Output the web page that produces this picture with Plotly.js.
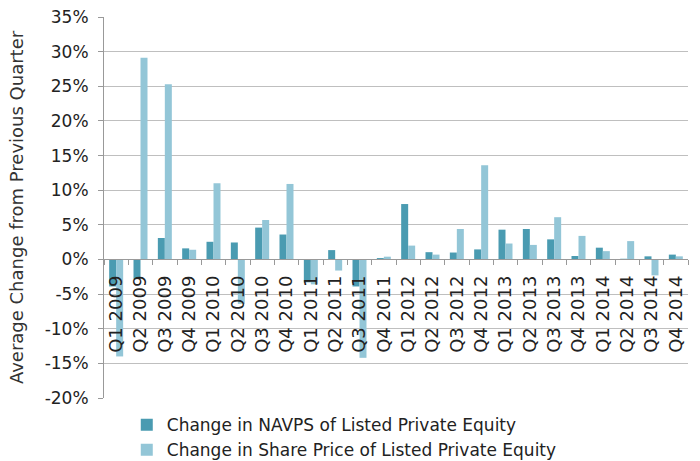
<!DOCTYPE html>
<html>
<head>
<meta charset="utf-8">
<script src="https://cdn.plot.ly/plotly-3.0.1.min.js"></script>
<style>html,body{margin:0;padding:0;background:#fff;}#chart{width:700px;height:461px;}</style>
</head>
<body>
<div id="chart"></div>
<script>
const quarters = ["Q1 2009","Q2 2009","Q3 2009","Q4 2009","Q1 2010","Q2 2010","Q3 2010","Q4 2010",
  "Q1 2011","Q2 2011","Q3 2011","Q4 2011","Q1 2012","Q2 2012","Q3 2012","Q4 2012",
  "Q1 2013","Q2 2013","Q3 2013","Q4 2013","Q1 2014","Q2 2014","Q3 2014","Q4 2014"];
const navpsChange = [-3.9,-2.8,3.1,1.6,2.55,2.45,4.6,3.6,
  -3.3,1.35,-3.9,0.2,8.0,1.05,1.0,1.45,
  4.3,4.4,2.9,0.5,1.7,0.1,0.45,0.7];
const sharePriceChange = [-14.0,29.1,25.3,1.4,11.0,-6.4,5.7,10.9,
  -3.6,-1.6,-14.2,0.4,2.0,0.7,4.4,13.6,
  2.3,2.1,6.1,3.4,1.2,2.65,-2.3,0.45];
const seriesNames = ["Change in NAVPS of Listed Private Equity","Change in Share Price of Listed Private Equity"];
const yTickVals = [-20,-15,-10,-5,0,5,10,15,20,25,30,35];
const yTickText = yTickVals.map(v => v + "%");

const font = "DejaVu Sans, sans-serif";
const data = [
  {type:"bar", name:seriesNames[0], x:quarters, y:navpsChange, marker:{color:"#4A9BB1", line:{width:0}}},
  {type:"bar", name:seriesNames[1], x:quarters, y:sharePriceChange, marker:{color:"#93C6D7", line:{width:0}}}
];
const layout = {
  width:700, height:461,
  margin:{l:104, r:12, t:17, b:63, autoexpand:false},
  paper_bgcolor:"#fff", plot_bgcolor:"#fff",
  font:{family:font, color:"#222", size:17},
  barmode:"group", bargap:0.425, bargroupgap:0,
  showlegend:true,
  legend:{orientation:"v", x:0.039, xanchor:"left", y:-0.024, yanchor:"top",
    font:{family:font, size:17, color:"#222"}, itemwidth:30, tracegroupgap:0, bgcolor:"rgba(0,0,0,0)"},
  xaxis:{
    type:"category", anchor:"free", position:20/55,
    tickangle:-90, tickson:"boundaries", ticks:"outside", ticklen:5, tickcolor:"#999",
    showline:true, linecolor:"#999", linewidth:1, showgrid:false, zeroline:false,
    tickfont:{family:font, size:18, color:"#222"}, automargin:false, ticklabelstandoff:8
  },
  yaxis:{
    range:[-20,35], tickvals:yTickVals, ticktext:yTickText,
    ticks:"outside", ticklen:5, tickcolor:"#999",
    showline:true, linecolor:"#999", linewidth:1,
    showgrid:true, gridcolor:"#BFBFBF", gridwidth:1, zeroline:false,
    tickfont:{family:font, size:17, color:"#222"}, automargin:false, ticklabelstandoff:6,
    title:{text:"Average Change from Previous Quarter", font:{family:font, size:18, color:"#333"}, standoff:16}
  }
};
Plotly.newPlot("chart", data, layout, {displayModeBar:false, staticPlot:true});
</script>
</body>
</html>
